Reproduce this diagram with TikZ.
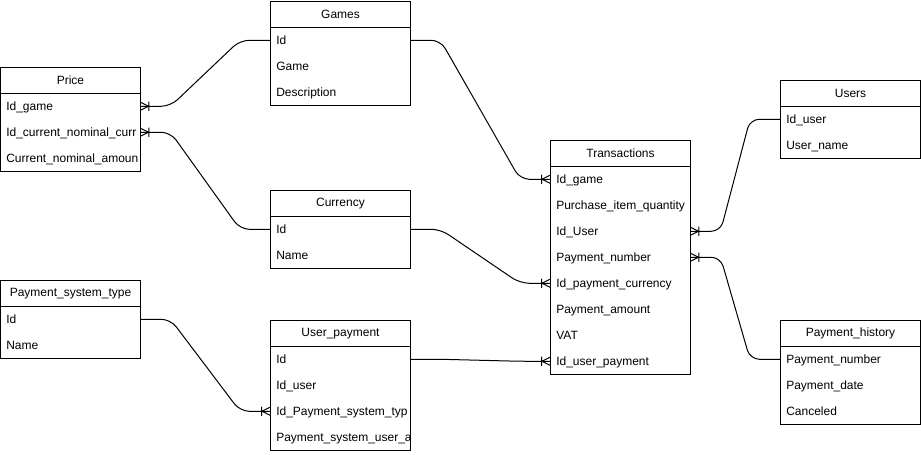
\documentclass[tikz,border=0pt]{standalone}
\usepackage{fontspec}
\setmainfont{Liberation Sans}
\usetikzlibrary{decorations.markings}

% One entity table: #1 name, #2 left x, #3 top y, #4 title, #5 number of fields, #6 key/text list
\newcommand{\ertable}[6]{%
  \node[frame, minimum height={(26+26*#5)*0.75pt}] (#1-box) at (#2,#3) {};
  \node[hdr] (#1) at (#2,#3) {#4};
  \begin{scope}
    \clip (#2,#3) rectangle ++(139,{26+26*#5});
    \foreach \k/\t [count=\i] in {#6}
      \node[fld] (#1-\k) at (#2,{#3+26*\i}) {\t};
  \end{scope}}

\begin{document}
\begin{tikzpicture}[x=0.75pt,y=-0.75pt,
  every node/.style={font=\fontsize{9pt}{11pt}\selectfont},
  frame/.style={draw, line width=0.75pt, minimum width=105pt, inner sep=0pt, anchor=north west},
  hdr/.style={draw, line width=0.75pt, minimum width=105pt, minimum height=19.5pt, inner sep=0pt, anchor=north west},
  fld/.style={minimum width=105pt, text width=96pt, minimum height=19.5pt, text height=9pt, text depth=2pt,
    inner xsep=4.5pt, inner ysep=0pt, align=left, anchor=north west},
  crowfoot/.style={decoration={markings, mark=at position 1 with {%
      \draw[line width=0.75pt, sharp corners]
        (-6pt,0pt) -- (0pt,3pt) (-6pt,0pt) -- (0pt,-3pt)
        (-6.3pt,-3.4pt) -- (-6.3pt,3.4pt);}},
    postaction={decorate}},
  rel/.style={line width=0.75pt, rounded corners=7pt, crowfoot}
]
\useasboundingbox (0,0) rectangle (921,454);

\ertable{games}{270}{1}{Games}{3}{id/Id, game/Game, desc/Description}
\ertable{price}{0}{67}{Price}{3}{idgame/Id\_game, idcur/Id\_current\_nominal\_curr, amount/Current\_nominal\_amoun}
\ertable{currency}{270}{190}{Currency}{2}{id/Id, name/Name}
\ertable{pst}{0}{280}{Payment\_system\_type}{2}{id/Id, name/Name}
\ertable{upay}{270}{320}{User\_payment}{4}{id/Id, iduser/Id\_user, idpst/Id\_Payment\_system\_typ, acct/Payment\_system\_user\_a}
\ertable{trans}{550}{140}{Transactions}{8}{idgame/Id\_game, qty/Purchase\_item\_quantity, iduser/Id\_User, paynum/Payment\_number, idcur/Id\_payment\_currency, amount/Payment\_amount, vat/VAT, idupay/Id\_user\_payment}
\ertable{users}{780}{80}{Users}{2}{iduser/Id\_user, name/User\_name}
\ertable{phist}{780}{320}{Payment\_history}{3}{paynum/Payment\_number, date/Payment\_date, canceled/Canceled}

% relations, drawn from the "one" side to the "many" side
\draw[rel] (games-id.west) -- ++(-30,0) -- ([xshift=22.5pt]price-idgame.east) -- (price-idgame.east);
\draw[rel] (currency-id.west) -- ++(-30,0) -- ([xshift=22.5pt]price-idcur.east) -- (price-idcur.east);
\draw[rel] (games-id.east) -- ++(30,0) -- ([xshift=-22.5pt]trans-idgame.west) -- (trans-idgame.west);
\draw[rel] (currency-id.east) -- ++(30,0) -- ([xshift=-22.5pt]trans-idcur.west) -- (trans-idcur.west);
\draw[rel] (upay-id.east) -- ++(30,0) -- ([xshift=-22.5pt]trans-idupay.west) -- (trans-idupay.west);
\draw[rel] (pst-id.east) -- ++(30,0) -- ([xshift=-22.5pt]upay-idpst.west) -- (upay-idpst.west);
\draw[rel] (users-iduser.west) -- ++(-30,0) -- ([xshift=22.5pt]trans-iduser.east) -- (trans-iduser.east);
\draw[rel] (phist-paynum.west) -- ++(-30,0) -- ([xshift=22.5pt]trans-paynum.east) -- (trans-paynum.east);
\end{tikzpicture}
\end{document}
